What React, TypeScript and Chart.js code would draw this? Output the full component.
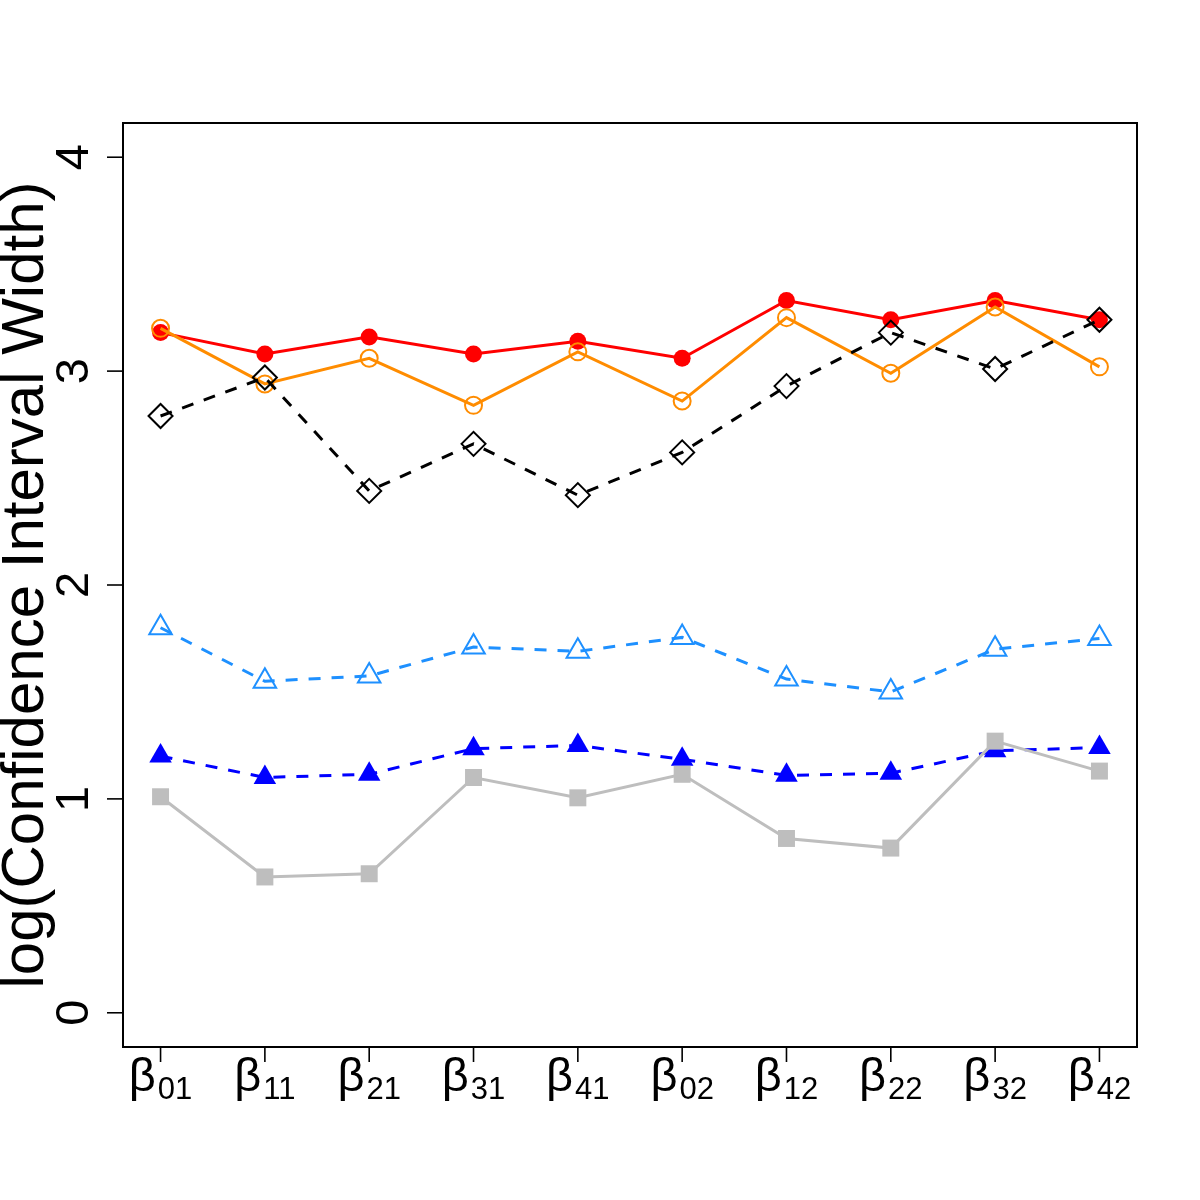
import React, { useEffect, useRef } from "react";
import { Chart, registerables } from "chart.js";

Chart.register(...registerables);

// Parameter subscripts shown under each position (β with subscript)
const paramSubscripts = ["01", "11", "21", "31", "41", "02", "12", "22", "32", "42"];
const yTicks = [0, 1, 2, 3, 4];

// log(CI width) per parameter for each method
const redSeries = [3.18, 3.08, 3.16, 3.08, 3.14, 3.06, 3.33, 3.24, 3.33, 3.24];
const orangeSeries = [3.2, 2.94, 3.06, 2.84, 3.09, 2.86, 3.25, 2.99, 3.3, 3.02];
const blackSeries = [2.79, 2.97, 2.44, 2.66, 2.42, 2.62, 2.93, 3.18, 3.01, 3.24];
const skySeries = [1.8, 1.55, 1.575, 1.71, 1.69, 1.755, 1.56, 1.5, 1.7, 1.75];
const blueSeries = [1.2, 1.1, 1.115, 1.235, 1.25, 1.185, 1.11, 1.12, 1.225, 1.24];
const graySeries = [1.01, 0.635, 0.65, 1.1, 1.005, 1.115, 0.815, 0.77, 1.27, 1.13];

const FONT = "'Liberation Sans', Arial, Helvetica, sans-serif";

const toPoints = (vals: number[]) => vals.map((y, i) => ({ x: i + 1, y }));

const axesPlugin = {
  id: "baseAxes",
  afterDraw(chart: any) {
    const { ctx, chartArea } = chart;
    const xs = chart.scales.x;
    const ys = chart.scales.y;
    const { left, right, top, bottom } = chartArea;
    ctx.save();
    ctx.strokeStyle = "#000";
    ctx.fillStyle = "#000";

    // box
    ctx.lineWidth = 2;
    ctx.strokeRect(left, top, right - left, bottom - top);

    // y ticks and rotated labels
    ctx.lineWidth = 1.6;
    ctx.font = `47px ${FONT}`;
    ctx.textAlign = "center";
    ctx.textBaseline = "alphabetic";
    yTicks.forEach((t) => {
      const py = ys.getPixelForValue(t);
      ctx.beginPath();
      ctx.moveTo(left - 16, py);
      ctx.lineTo(left, py);
      ctx.stroke();
      ctx.save();
      ctx.translate(88, py);
      ctx.rotate(-Math.PI / 2);
      ctx.fillText(String(t), 0, 0);
      ctx.restore();
    });

    // x ticks and β labels with subscripts
    paramSubscripts.forEach((sub, i) => {
      const px = xs.getPixelForValue(i + 1);
      ctx.beginPath();
      ctx.moveTo(px, bottom);
      ctx.lineTo(px, bottom + 15);
      ctx.stroke();
      ctx.font = `47px ${FONT}`;
      const wb = ctx.measureText("β").width;
      ctx.font = `31px ${FONT}`;
      const ws = ctx.measureText(sub).width;
      const start = px - (wb + ws + 2) / 2;
      ctx.textAlign = "left";
      ctx.font = `47px ${FONT}`;
      ctx.fillText("β", start, 1091);
      ctx.font = `31px ${FONT}`;
      ctx.fillText(sub, start + wb + 2, 1099);
    });

    // y-axis title
    ctx.save();
    ctx.font = `60px ${FONT}`;
    ctx.textAlign = "center";
    ctx.translate(43, (top + bottom) / 2);
    ctx.rotate(-Math.PI / 2);
    ctx.fillText("log(Confidence Interval Width)", 0, 0);
    ctx.restore();

    ctx.restore();
  },
};

export default function App() {
  const canvasRef = useRef<HTMLCanvasElement | null>(null);

  useEffect(() => {
    if (!canvasRef.current) return;
    const clear = "rgba(0,0,0,0)";
    const chart = new Chart(canvasRef.current, {
      type: "line",
      data: {
        datasets: [
          {
            data: toPoints(redSeries),
            borderColor: "#FF0000",
            backgroundColor: "#FF0000",
            borderWidth: 3,
            pointStyle: "circle",
            pointRadius: 8.5,
            pointBorderWidth: 0,
            pointBackgroundColor: "#FF0000",
            order: 6,
          },
          {
            data: toPoints(orangeSeries),
            borderColor: "#FF8C00",
            borderWidth: 3,
            pointStyle: "circle",
            pointRadius: 8.5,
            pointBorderWidth: 2,
            pointBorderColor: "#FF8C00",
            pointBackgroundColor: clear,
            order: 5,
          },
          {
            data: toPoints(blackSeries),
            borderColor: "#000000",
            borderWidth: 3,
            borderDash: [12, 11],
            pointStyle: "rectRot",
            pointRadius: 12,
            pointBorderWidth: 2,
            pointBorderColor: "#000000",
            pointBackgroundColor: clear,
            order: 4,
          },
          {
            data: toPoints(skySeries),
            borderColor: "#1E90FF",
            borderWidth: 3,
            borderDash: [12, 11],
            pointStyle: "triangle",
            pointRadius: 13,
            pointBorderWidth: 2,
            pointBorderColor: "#1E90FF",
            pointBackgroundColor: clear,
            order: 3,
          },
          {
            data: toPoints(blueSeries),
            borderColor: "#0000FF",
            borderWidth: 3,
            borderDash: [12, 11],
            pointStyle: "triangle",
            pointRadius: 13,
            pointBorderWidth: 0,
            pointBackgroundColor: "#0000FF",
            order: 2,
          },
          {
            data: toPoints(graySeries),
            borderColor: "#BEBEBE",
            borderWidth: 3,
            pointStyle: "rect",
            pointRadius: 12,
            pointBorderWidth: 0,
            pointBackgroundColor: "#BEBEBE",
            order: 1,
          },
        ],
      },
      options: {
        responsive: false,
        animation: false,
        devicePixelRatio: 1,
        layout: { padding: { left: 123, top: 123, right: 63, bottom: 153 } },
        elements: { line: { tension: 0, fill: false } },
        plugins: {
          legend: { display: false },
          tooltip: { enabled: false },
        },
        scales: {
          x: { type: "linear", min: 0.64, max: 10.36, display: false },
          y: { type: "linear", min: -0.16, max: 4.16, display: false },
        },
      },
      plugins: [axesPlugin],
    });
    return () => chart.destroy();
  }, []);

  return (
    <div style={{ position: "absolute", left: 0, top: 0, width: 1200, height: 1200, background: "#fff" }}>
      <canvas ref={canvasRef} width={1200} height={1200} />
    </div>
  );
}
